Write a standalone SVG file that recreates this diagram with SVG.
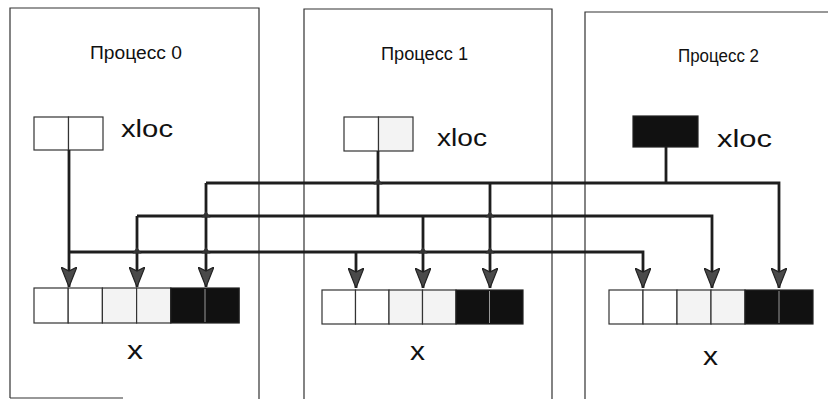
<svg xmlns="http://www.w3.org/2000/svg" width="828" height="399" viewBox="0 0 828 399">
  <style>
    .frame { fill: none; stroke: #333; stroke-width: 1.2; }
    .title { font-family: "Liberation Sans", Arial, sans-serif; font-size: 18px; fill: #111; }
    .lbl { font-family: "Liberation Sans", Arial, sans-serif; font-size: 23px; fill: #111; }
    .xl { font-family: "Liberation Sans", Arial, sans-serif; font-size: 26px; fill: #111; }
    .cw { fill: #fff; stroke: #333; stroke-width: 1.2; }
    .cl { fill: #f3f3f3; stroke: #333; stroke-width: 1.2; }
    .cb { fill: #111; stroke: #222; stroke-width: 1.2; }
    .dv { stroke: #999; stroke-width: 1; }
    .conn { fill: none; stroke: #1e1e1e; stroke-width: 2.8; }
    .arr { marker-end: url(#ah); }
    .bump { fill: #333; }
  </style>
  <defs>
    <marker id="ah" markerUnits="userSpaceOnUse" viewBox="0 0 20 16" refX="20" refY="8" markerWidth="20" markerHeight="16" orient="auto">
      <path d="M0,0 L20,8 L0,16 L4,8 z" fill="#4a4a4a" stroke="#222" stroke-width="1.2"/>
    </marker>
    <path id="bp" d="M-4.5,1.5 L0,-5 L4.5,1.5 Z"/>
  </defs>

  <g id="process0">
    <path class="frame" d="M10,398 V8 H259 V399"/>
    <path class="frame" d="M10,398 H123"/>
    <text class="title" x="90" y="59" textLength="92" lengthAdjust="spacingAndGlyphs">Процесс 0</text>
    <g id="xloc0">
      <rect class="cw" x="34" y="117" width="34.5" height="33"/>
      <rect class="cw" x="68.5" y="117" width="34.5" height="33"/>
    </g>
    <text class="lbl" x="121" y="137" textLength="52" lengthAdjust="spacingAndGlyphs">xloc</text>
    <g id="x0">
      <rect class="cw" x="34" y="288" width="34.2" height="35"/>
      <rect class="cw" x="68.2" y="288" width="34.2" height="35"/>
      <rect class="cl" x="102.4" y="288" width="34.2" height="35"/>
      <rect class="cl" x="136.6" y="288" width="34.2" height="35"/>
      <rect class="cb" x="170.8" y="288" width="68.4" height="35"/>
      <line class="dv" x1="205" y1="289" x2="205" y2="322"/>
    </g>
    <text class="xl" x="127" y="359" textLength="16" lengthAdjust="spacingAndGlyphs">x</text>
  </g>

  <g id="process1">
    <path class="frame" d="M304,399 V9 H552 V399"/>
    <text class="title" x="381" y="60" textLength="87" lengthAdjust="spacingAndGlyphs">Процесс 1</text>
    <g id="xloc1">
      <rect class="cw" x="344" y="117" width="34.5" height="34"/>
      <rect class="cl" x="378.5" y="117" width="34.5" height="34"/>
    </g>
    <text class="lbl" x="437" y="146" textLength="50" lengthAdjust="spacingAndGlyphs">xloc</text>
    <g id="x1">
      <rect class="cw" x="322" y="290" width="33.5" height="34"/>
      <rect class="cw" x="355.5" y="290" width="33.5" height="34"/>
      <rect class="cl" x="389" y="290" width="33.5" height="34"/>
      <rect class="cl" x="422.5" y="290" width="33.5" height="34"/>
      <rect class="cb" x="456" y="290" width="67" height="34"/>
      <line class="dv" x1="489.5" y1="291" x2="489.5" y2="323"/>
    </g>
    <text class="xl" x="410" y="360" textLength="15" lengthAdjust="spacingAndGlyphs">x</text>
  </g>

  <g id="process2">
    <path class="frame" d="M585,399 V12 H828"/>
    <text class="title" x="678" y="62" textLength="81" lengthAdjust="spacingAndGlyphs">Процесс 2</text>
    <g id="xloc2">
      <rect class="cb" x="633" y="116" width="65" height="31"/>
    </g>
    <text class="lbl" x="717" y="147" textLength="55" lengthAdjust="spacingAndGlyphs">xloc</text>
    <g id="x2">
      <rect class="cw" x="609" y="290" width="34" height="34"/>
      <rect class="cw" x="643" y="290" width="34" height="34"/>
      <rect class="cl" x="677" y="290" width="34" height="34"/>
      <rect class="cl" x="711" y="290" width="34" height="34"/>
      <rect class="cb" x="745" y="290" width="68" height="34"/>
      <line class="dv" x1="779" y1="291" x2="779" y2="323"/>
    </g>
    <text class="xl" x="703" y="365" textLength="15" lengthAdjust="spacingAndGlyphs">x</text>
  </g>

  <g id="connectors">
    <path class="conn arr" d="M69,150 V287"/>
    <path class="conn arr" d="M69,252 H643 V288"/>
    <path class="conn arr" d="M356,252 V288"/>
    <path class="conn" d="M378,151 V216"/>
    <path class="conn arr" d="M137,216 V287"/>
    <path class="conn arr" d="M137,216 H712 V288"/>
    <path class="conn arr" d="M423,216 V288"/>
    <path class="conn" d="M666,147 V183"/>
    <path class="conn arr" d="M206,183 V287"/>
    <path class="conn arr" d="M206,183 H779 V288"/>
    <path class="conn arr" d="M490,183 V288"/>
    <use href="#bp" class="bump" x="378" y="183"/>
    <use href="#bp" class="bump" x="206" y="216"/>
    <use href="#bp" class="bump" x="490" y="216"/>
    <use href="#bp" class="bump" x="137" y="252"/>
    <use href="#bp" class="bump" x="206" y="252"/>
    <use href="#bp" class="bump" x="423" y="252"/>
    <use href="#bp" class="bump" x="490" y="252"/>
  </g>
</svg>
